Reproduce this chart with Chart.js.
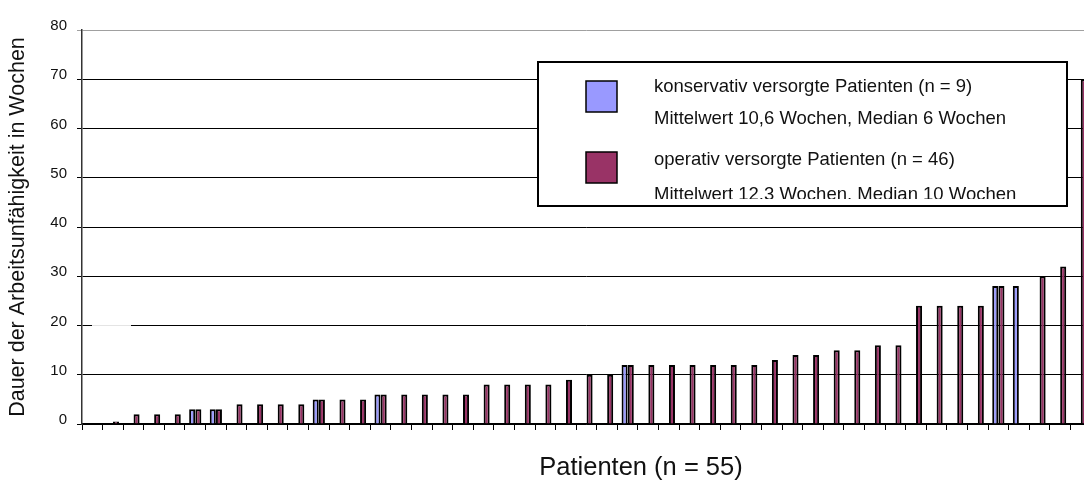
<!DOCTYPE html>
<html>
<head>
<meta charset="utf-8">
<script src="https://cdn.jsdelivr.net/npm/chart.js@4.4.0/dist/chart.umd.min.js"></script>
<style>
  html, body { margin: 0; padding: 0; overflow: hidden; background: #fff; }
  #wrap { width: 1092px; height: 480px; }
</style>
</head>
<body>
<div id="wrap"><canvas id="myChart" width="1092" height="480"></canvas></div>
<script>
/* globals Chart:false */

// Patienten, sortiert nach Dauer (eine Kategorie je Balkenplatz)
var categories = ['1', '2', '3', '4', '5', '6', '7', '8', '9', '10',
  '11', '12', '13', '14', '15', '16', '17', '18', '19', '20',
  '21', '22', '23', '24', '25', '26', '27', '28', '29', '30',
  '31', '32', '33', '34', '35', '36', '37', '38', '39', '40',
  '41', '42', '43', '44', '45', '46', '47', '48', '49']

// konservativ versorgte Patienten (Wochen)
var konservativ = [null, null, null, null, null, 3, 3, null, null, null,
  null, 5, null, null, 6, null, null, null, null, null,
  null, null, null, null, null, null, 12, null, null, null,
  null, null, null, null, null, null, null, null, null, null,
  null, null, null, null, 28, 28, null, null, null]

// operativ versorgte Patienten (Wochen)
var operativ = [null, 0.5, 2, 2, 2, 3, 3, 4, 4, 4,
  4, 5, 5, 5, 6, 6, 6, 6, 6, 8,
  8, 8, 8, 9, 10, 10, 12, 12, 12, 12,
  12, 12, 12, 13, 14, 14, 15, 15, 16, 16,
  24, 24, 24, 24, 28, null, 30, 32, 70]

var yTicks = [0, 10, 20, 30, 40, 50, 60, 70, 80]

var seriesNames = ['konservativ versorgte Patienten (n = 9)', 'operativ versorgte Patienten (n = 46)']
var seriesNotes = ['Mittelwert 10,6 Wochen, Median 6 Wochen', 'Mittelwert 12,3 Wochen, Median 10 Wochen']
var seriesColors = ['#9999ff', '#993366']

var xTitle = 'Patienten (n = 55)'
var yTitle = 'Dauer der Arbeitsunfähigkeit in Wochen'

var FONT = '"Liberation Sans", Arial, sans-serif'

// Legendenkasten wie im Original (letzte Zeile unten abgeschnitten)
var boxLegend = {
  id: 'boxLegend',
  beforeDatasetsDraw: function (chart) {
    // kleine Lücke in der 20er-Gitterlinie wie im Original
    var c = chart.ctx
    var y = chart.scales.y.getPixelForValue(20)
    c.save()
    c.fillStyle = '#fff'
    c.fillRect(92, y - 1, 39, 2)
    c.fillStyle = '#e4e4e4'
    c.fillRect(92, y - 0.5, 39, 1)
    c.restore()
  },
  afterDraw: function (chart) {
    var ctx = chart.ctx
    var box = { left: 538, top: 62, right: 1067, bottom: 206 }
    ctx.save()
    ctx.fillStyle = '#fff'
    ctx.fillRect(box.left, box.top, box.right - box.left, box.bottom - box.top)
    var squareTop = [81, 152]
    var baselines = [[92, 123.5], [165, 200]]
    for (var i = 0; i < seriesNames.length; i++) {
      ctx.fillStyle = seriesColors[i]
      ctx.fillRect(586, squareTop[i], 31, 31)
      ctx.lineWidth = 1.5
      ctx.strokeStyle = '#000'
      ctx.strokeRect(586, squareTop[i], 31, 31)
    }
    ctx.beginPath()
    ctx.rect(box.left, box.top, box.right - box.left, 199 - box.top)
    ctx.clip()
    ctx.fillStyle = '#111'
    ctx.font = '18.5px ' + FONT
    ctx.textBaseline = 'alphabetic'
    ctx.textAlign = 'left'
    for (var j = 0; j < seriesNames.length; j++) {
      ctx.fillText(seriesNames[j], 654, baselines[j][0])
      ctx.fillText(seriesNotes[j], 654, baselines[j][1])
    }
    ctx.restore()
    ctx.save()
    ctx.lineWidth = 2
    ctx.strokeStyle = '#000'
    ctx.strokeRect(box.left, box.top, box.right - box.left, box.bottom - box.top)
    // x-Achsentitel
    ctx.fillStyle = '#111'
    ctx.font = '25.5px ' + FONT
    ctx.textAlign = 'center'
    ctx.textBaseline = 'middle'
    ctx.fillText(xTitle, 641, 468)
    ctx.restore()
  }
}

var ctx = document.getElementById('myChart')
// eslint-disable-next-line no-unused-vars
var myChart = new Chart(ctx, {
  type: 'bar',
  data: {
    labels: categories,
    datasets: [{
      label: seriesNames[0],
      data: konservativ,
      backgroundColor: seriesColors[0],
      borderColor: '#000',
      borderWidth: 2
    }, {
      label: seriesNames[1],
      data: operativ,
      backgroundColor: seriesColors[1],
      borderColor: '#000',
      borderWidth: 2
    }]
  },
  plugins: [boxLegend],
  options: {
    responsive: false,
    animation: false,
    categoryPercentage: 0.6,
    barPercentage: 0.98,
    layout: { padding: { top: 30, right: 1, left: 0, bottom: 0 } },
    plugins: {
      legend: { display: false },
      tooltip: { enabled: false },
      title: { display: false }
    },
    scales: {
      x: {
        afterFit: function (scale) { scale.height = 56 },
        grid: {
          display: true,
          drawOnChartArea: false,
          drawTicks: true,
          tickLength: 6,
          color: '#000',
          offset: true
        },
        border: { display: true, color: '#000', width: 1.5 },
        ticks: { display: false }
      },
      y: {
        min: 0,
        max: 80,
        afterFit: function (scale) { scale.width = 82 },
        afterBuildTicks: function (scale) {
          scale.ticks = yTicks.map(function (v) { return { value: v } })
        },
        grid: {
          color: function (c) { return c.tick && c.tick.value === 80 ? '#a0a0a0' : '#000' },
          lineWidth: 1,
          tickLength: 5
        },
        border: { display: true, color: '#333', width: 1.5 },
        ticks: {
          color: '#111',
          padding: 10,
          labelOffset: -4,
          font: { family: FONT, size: 15 }
        },
        title: {
          display: true,
          text: yTitle,
          color: '#111',
          padding: { top: 5, bottom: 0 },
          font: { family: FONT, size: 21.5 }
        }
      }
    }
  }
})
</script>
</body>
</html>
